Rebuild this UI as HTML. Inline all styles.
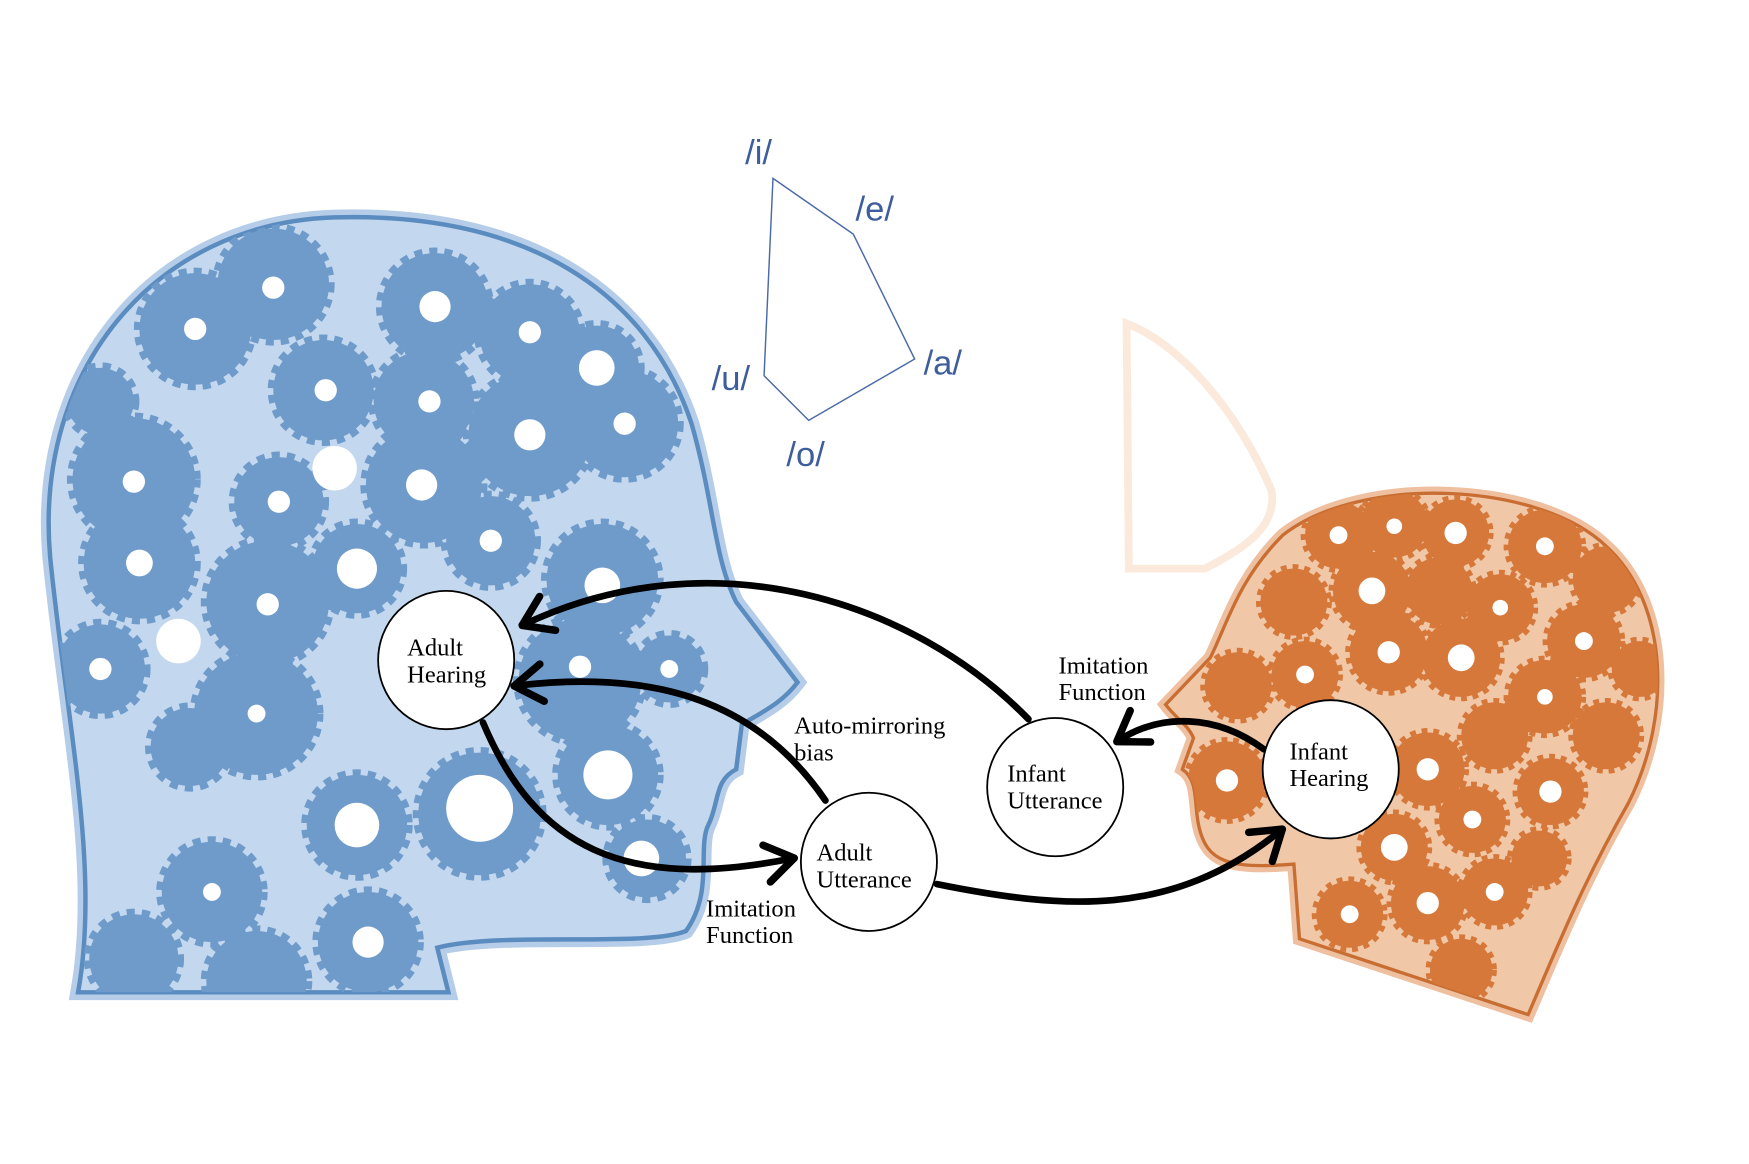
<!DOCTYPE html>
<html><head><meta charset="utf-8"><style>
html,body{margin:0;padding:0;background:#fff}
svg{display:block}
text{font-family:"Liberation Serif",serif;fill:#000}
.v{font-family:"Liberation Sans",sans-serif;fill:#3d5d9c;font-size:31px}
</style></head><body>
<svg width="1749" height="1164" viewBox="0 0 1568 1044" preserveAspectRatio="none" xmlns="http://www.w3.org/2000/svg">
<defs>
<clipPath id="cb"><path id="hb" d="M70 890 C90 780 60 650 45 500 C30 330 140 200 300 195 C470 190 580 260 620 380 C640 450 640 500 660 540 L715 612 C700 632 680 640 665 650 L660 690 C640 700 645 720 635 740 C625 760 640 800 615 835 C580 850 450 835 392 850 L402 890 Z"/></clipPath>
<clipPath id="co"><path id="ho" d="M1370 910 C1400 840 1420 790 1460 720 C1500 640 1495 540 1440 490 C1380 432 1220 425 1150 480 C1110 520 1100 560 1085 590 L1045 632 C1055 645 1065 650 1070 662 L1060 690 C1075 700 1070 722 1075 742 C1082 772 1100 780 1160 775 L1165 842 Z"/></clipPath>
<marker id="ah" viewBox="0 0 20 20" refX="14" refY="10" markerWidth="7" markerHeight="7" orient="auto" markerUnits="strokeWidth"><path d="M3 2 L15 10 L3 18" fill="none" stroke="#000" stroke-width="3.2" stroke-linecap="round" stroke-linejoin="round"/></marker>
</defs>
<!-- blue head -->
<use href="#hb" fill="#dce8f4" stroke="#b5cde8" stroke-width="14"/>
<use href="#hb" fill="#c3d8ee" stroke="#5b8cc0" stroke-width="4"/>
<g clip-path="url(#cb)" fill="#6f9bcb" stroke="#6f9bcb">
<g stroke-width="10" stroke-dasharray="7 6">
<circle cx="175" cy="295" r="50"/><circle cx="245" cy="255" r="50"/><circle cx="390" cy="275" r="48"/><circle cx="475" cy="300" r="45"/><circle cx="535" cy="330" r="38"/>
<circle cx="120" cy="430" r="55"/><circle cx="290" cy="350" r="45"/><circle cx="380" cy="360" r="45"/><circle cx="475" cy="390" r="55"/><circle cx="560" cy="380" r="48"/>
<circle cx="125" cy="505" r="50"/><circle cx="240" cy="540" r="55"/><circle cx="320" cy="510" r="40"/><circle cx="380" cy="435" r="52"/><circle cx="440" cy="485" r="40"/><circle cx="540" cy="520" r="50"/><circle cx="600" cy="600" r="30"/>
<circle cx="230" cy="640" r="55"/><circle cx="170" cy="670" r="35"/><circle cx="320" cy="740" r="45"/><circle cx="430" cy="730" r="55"/><circle cx="545" cy="695" r="45"/><circle cx="520" cy="610" r="55"/><circle cx="580" cy="770" r="35"/>
<circle cx="190" cy="800" r="45"/><circle cx="330" cy="845" r="45"/><circle cx="230" cy="880" r="45"/><circle cx="120" cy="860" r="40"/><circle cx="90" cy="600" r="40"/><circle cx="90" cy="360" r="30"/><circle cx="250" cy="450" r="40"/>
</g>
<g fill="#fff" stroke="none">
<circle cx="175" cy="295" r="10"/><circle cx="245" cy="258" r="10"/><circle cx="390" cy="275" r="14"/><circle cx="475" cy="298" r="10"/><circle cx="535" cy="330" r="16"/><circle cx="120" cy="432" r="10"/><circle cx="292" cy="350" r="10"/><circle cx="385" cy="360" r="10"/><circle cx="475" cy="390" r="14"/><circle cx="560" cy="380" r="10"/>
<circle cx="125" cy="505" r="12"/><circle cx="240" cy="542" r="10"/><circle cx="320" cy="510" r="18"/><circle cx="378" cy="435" r="14"/><circle cx="440" cy="485" r="10"/><circle cx="540" cy="525" r="16"/><circle cx="600" cy="600" r="8"/>
<circle cx="230" cy="640" r="8"/><circle cx="320" cy="740" r="20"/><circle cx="430" cy="725" r="30"/><circle cx="545" cy="695" r="22"/><circle cx="520" cy="598" r="10"/><circle cx="190" cy="800" r="8"/><circle cx="330" cy="845" r="14"/><circle cx="90" cy="600" r="10"/><circle cx="250" cy="450" r="10"/><circle cx="300" cy="420" r="20"/><circle cx="160" cy="575" r="20"/><circle cx="575" cy="770" r="16"/>
</g></g>
<!-- orange head -->
<path d="M1010 290 C1060 310 1110 370 1140 440 C1145 470 1120 490 1080 510 L1012 510 Z" fill="none" stroke="#fbeadc" stroke-width="7"/>
<use href="#ho" fill="#f7e0cc" stroke="#eec0a0" stroke-width="12"/>
<use href="#ho" fill="#f0c8a8" stroke="#c96e32" stroke-width="3"/>
<g clip-path="url(#co)" fill="#d6783a" stroke="#d6783a">
<g stroke-width="8" stroke-dasharray="5 5">
<circle cx="1200" cy="480" r="30"/><circle cx="1250" cy="470" r="30"/><circle cx="1305" cy="478" r="30"/><circle cx="1385" cy="490" r="33"/><circle cx="1440" cy="520" r="30"/>
<circle cx="1160" cy="540" r="30"/><circle cx="1230" cy="530" r="35"/><circle cx="1290" cy="530" r="30"/><circle cx="1345" cy="545" r="30"/><circle cx="1420" cy="575" r="33"/><circle cx="1470" cy="600" r="25"/>
<circle cx="1110" cy="615" r="30"/><circle cx="1170" cy="605" r="30"/><circle cx="1245" cy="585" r="35"/><circle cx="1310" cy="590" r="35"/><circle cx="1385" cy="625" r="33"/><circle cx="1440" cy="660" r="30"/>
<circle cx="1100" cy="700" r="35"/><circle cx="1280" cy="690" r="33"/><circle cx="1340" cy="660" r="30"/><circle cx="1320" cy="735" r="30"/><circle cx="1390" cy="710" r="30"/><circle cx="1250" cy="760" r="30"/>
<circle cx="1210" cy="820" r="30"/><circle cx="1280" cy="810" r="33"/><circle cx="1340" cy="800" r="30"/><circle cx="1310" cy="870" r="28"/><circle cx="1380" cy="770" r="25"/>
</g>
<g fill="#fff" stroke="none">
<circle cx="1200" cy="480" r="8"/><circle cx="1250" cy="472" r="7"/><circle cx="1305" cy="478" r="10"/><circle cx="1385" cy="490" r="8"/><circle cx="1230" cy="530" r="12"/><circle cx="1345" cy="545" r="7"/><circle cx="1420" cy="575" r="8"/><circle cx="1170" cy="605" r="8"/><circle cx="1245" cy="585" r="10"/><circle cx="1310" cy="590" r="12"/><circle cx="1385" cy="625" r="7"/><circle cx="1280" cy="690" r="10"/><circle cx="1320" cy="735" r="8"/><circle cx="1390" cy="710" r="10"/><circle cx="1250" cy="760" r="12"/><circle cx="1210" cy="820" r="8"/><circle cx="1280" cy="810" r="10"/><circle cx="1340" cy="800" r="8"/><circle cx="1100" cy="700" r="10"/>
</g></g>
<!-- vowel polygon -->
<polygon points="693,160 765,210 820,322 725,377 685,337" fill="none" stroke="#4a6aa8" stroke-width="1.3"/>
<text class="v" x="668" y="147">/i/</text>
<text class="v" x="767" y="198">/e/</text>
<text class="v" x="828" y="336">/a/</text>
<text class="v" x="638" y="350">/u/</text>
<text class="v" x="705" y="418">/o/</text>
<!-- arrows -->
<g fill="none" stroke="#000" stroke-width="6" stroke-linecap="round" marker-end="url(#ah)">
<path d="M922 645 C820 540 640 480 470 560"/>
<path d="M740 718 C680 630 590 600 463 615"/>
<path d="M433 648 C480 760 560 800 710 770"/>
<path d="M840 793 C950 815 1050 825 1148 745"/>
<path d="M1133 672 C1090 640 1040 640 1003 664"/>
</g>
<!-- nodes -->
<g fill="#fff" stroke="#000" stroke-width="1.6">
<ellipse cx="400" cy="592" rx="61" ry="62"/>
<ellipse cx="779" cy="773" rx="61" ry="62"/>
<ellipse cx="946" cy="706" rx="61" ry="62"/>
<ellipse cx="1193" cy="690" rx="61" ry="62"/>
</g>
<g font-size="22">
<text x="365" y="588">Adult</text><text x="365" y="612">Hearing</text>
<text x="732" y="772">Adult</text><text x="732" y="796">Utterance</text>
<text x="903" y="701">Infant</text><text x="903" y="725">Utterance</text>
<text x="1156" y="681">Infant</text><text x="1156" y="705">Hearing</text>
<text x="712" y="658">Auto-mirroring</text><text x="712" y="682">bias</text>
<text x="633" y="822">Imitation</text><text x="633" y="846">Function</text>
<text x="949" y="604">Imitation</text><text x="949" y="628">Function</text>
</g>
</svg>
</body></html>
